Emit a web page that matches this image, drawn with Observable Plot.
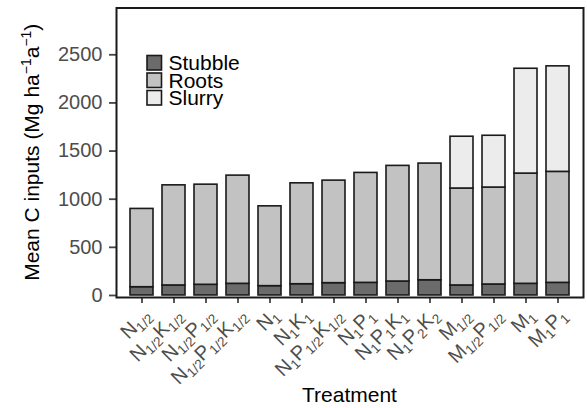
<!DOCTYPE html>
<html><head><meta charset="utf-8">
<script src="https://cdn.jsdelivr.net/npm/d3@7"></script>
<script src="https://cdn.jsdelivr.net/npm/@observablehq/plot@0.6"></script>
<style>body{margin:0;background:#fff} #chart{width:587px;height:408px}</style>
</head><body><div id="chart"></div>
<script>
const treatments = ["N1/2","N1/2K1/2","N1/2P1/2","N1/2P1/2K1/2","N1","N1K1","N1P1/2K1/2","N1P1","N1P1K1","N1P2K2","M1/2","M1/2P1/2","M1","M1P1"];
const components = ["Stubble","Roots","Slurry"];
const stubble = [86,104,111,121,97,117,128,131,145,158,104,114,121,131];
const roots   = [813,1040,1040,1124,829,1048,1065,1142,1201,1212,1007,1007,1145,1153];
const slurry  = [0,0,0,0,0,0,0,0,0,0,538,538,1089,1096];
const yTicks = [0,500,1000,1500,2000,2500];
const colors = ["#6b6b6b","#c1c2c1","#ebeceb"];

const rows = [];
treatments.forEach((t,i)=>{
  [stubble, roots, slurry].forEach((arr,j)=>{
    if (arr[i] > 0) rows.push({treatment:t, component:components[j], value:arr[i]});
  });
});

const font = "'Liberation Sans', Arial, Helvetica, sans-serif";
const plot = Plot.plot({
  width:587, height:408, marginLeft:116, marginRight:4, marginTop:7.5, marginBottom:111,
  style:{fontFamily:font, background:"#fff"},
  x:{domain:treatments, paddingInner:0.27, paddingOuter:0.235},
  y:{domain:[-21,2986]},
  color:{domain:components, range:colors},
  marks:[
    Plot.barY(rows, {x:"treatment", y:"value", fill:"component", stroke:"#1a1a1a", strokeWidth:1.6}),
    Plot.axisY({ticks:yTicks, tickFormat:d=>String(d), tickSize:7, tickPadding:7, fontSize:20, fill:"#4d4d4d", stroke:"#444", strokeWidth:1.8, label:null}),
    Plot.axisX({tickSize:6, fill:"none", stroke:"#444", strokeWidth:1.8, label:null}),
    Plot.text(treatments, {x:d=>d, text:d=>d, frameAnchor:"bottom", dy:9, rotate:-45, textAnchor:"end", lineAnchor:"top", fontSize:20, fill:"#4d4d4d"}),
    Plot.frame({stroke:"#1a1a1a", strokeWidth:2})
  ]
});
document.getElementById("chart").appendChild(plot);

const svg = d3.select(plot);
const SUB = 4;
svg.selectAll('g[aria-label="text"] text').each(function(){
  const label = this.textContent;
  const el = d3.select(this);
  el.text("");
  const re = /([A-Z])([0-9\/]*)/g;
  let m, shifted = false;
  while ((m = re.exec(label))) {
    const main = el.append("tspan").text(m[1]);
    if (shifted) { main.attr("dy", -SUB); shifted = false; }
    if (m[2]) { el.append("tspan").attr("font-size", 13.5).attr("dy", SUB).text(m[2]); shifted = true; }
  }
});

// y-axis title with superscripts
const yt = svg.append("text").attr("transform","translate(38.5,152.25) rotate(-90)")
  .attr("text-anchor","middle").attr("font-size",21).attr("fill","#000").attr("font-family",font);
yt.append("tspan").text("Mean C inputs (Mg ha");
yt.append("tspan").attr("font-size",14).attr("dy",-8).text("\u22121");
yt.append("tspan").attr("dy",8).text("a");
yt.append("tspan").attr("font-size",14).attr("dy",-8).text("\u22121");
yt.append("tspan").attr("dy",8).text(")");

// x-axis title
svg.append("text").attr("x",349.5).attr("y",402).attr("text-anchor","middle")
  .attr("font-size",21).attr("fill","#000").attr("font-family",font).text("Treatment");

// legend
const color = plot.scale("color");
const lg = svg.append("g").attr("font-family",font).attr("text-anchor","start");
components.forEach((c,i)=>{
  const y0 = 55.5 + 17.5*i;
  lg.append("rect").attr("x",147).attr("y",y0).attr("width",14.5).attr("height",14.5)
    .attr("fill",color.apply(c)).attr("stroke","#1a1a1a").attr("stroke-width",1.6);
  lg.append("text").attr("x",168.5).attr("y",y0+14.5).attr("font-size",21).attr("fill","#000").text(c);
});
</script>
</body></html>
